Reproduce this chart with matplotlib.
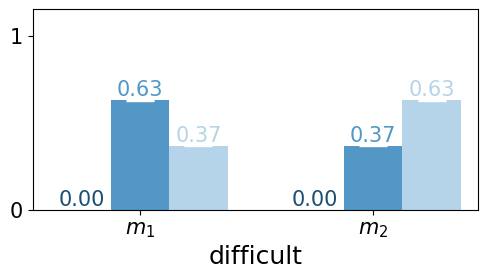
import matplotlib
matplotlib.use("Agg")
import matplotlib.pyplot as plt
import numpy as np

groups = ["$m_1$", "$m_2$"]
series_a = [0.00, 0.00]
series_b = [0.63, 0.37]
series_c = [0.37, 0.63]
errs = [0.004, 0.004]
colors = ["#1b4f72", "#5297c6", "#b5d4e9"]

fig, ax = plt.subplots(figsize=(4.9, 2.79), dpi=100)
fig.subplots_adjust(left=0.067, right=0.976, top=0.968, bottom=0.247)
x = np.arange(len(groups))
w = 0.25
for i, (vals, c) in enumerate(zip([series_a, series_b, series_c], colors)):
    pos = x + (i - 1) * w
    ax.bar(pos, vals, width=w, color=c, yerr=errs,
           error_kw=dict(ecolor="white", capsize=10, elinewidth=1, capthick=1))
    for p, v in zip(pos, vals):
        ax.text(p, v, f"{v:.2f}", ha="center", va="bottom", color=c, fontsize=15)

ax.set_xlim(-0.46, 1.45)
ax.set_ylim(0, 1.155)
ax.set_yticks([0, 1])
ax.set_xticks(x)
ax.set_xticklabels(groups)
ax.tick_params(labelsize=15)
ax.set_xlabel("difficult", fontsize=18)
fig.savefig("out.png", dpi=100)
